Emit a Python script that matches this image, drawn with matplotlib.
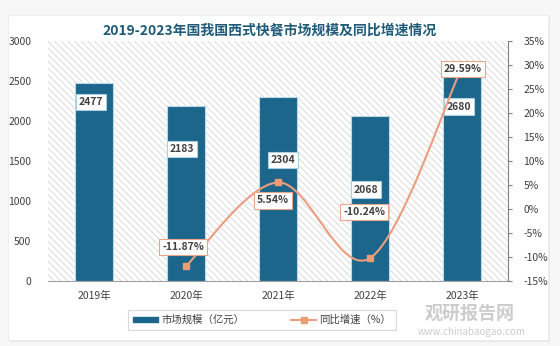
import matplotlib
matplotlib.use("Agg")
import matplotlib.pyplot as plt
from matplotlib.path import Path
from matplotlib.patches import PathPatch, Rectangle
from matplotlib.lines import Line2D
from matplotlib.patches import Patch

plt.rcParams['font.family'] = ['Noto Sans CJK SC', 'DejaVu Sans']
plt.rcParams['hatch.color'] = '#d6d6d6'
plt.rcParams['hatch.linewidth'] = 0.6

# ---- data ----
years = ['2019年', '2020年', '2021年', '2022年', '2023年']
market_size = [2477, 2183, 2304, 2068, 2680]          # 亿元
growth = [None, -11.87, 5.54, -10.24, 29.59]          # %
size_labels = ['2477', '2183', '2304', '2068', '2680']
growth_labels = ['', '-11.87%', '5.54%', '-10.24%', '29.59%']
left_ticks = [0, 500, 1000, 1500, 2000, 2500, 3000]
right_ticks = [-15, -10, -5, 0, 5, 10, 15, 20, 25, 30, 35]

title = '2019-2023年国我国西式快餐市场规模及同比增速情况'
bar_color = '#1b668a'
line_color = '#ec9d7f'
marker_color = '#eb9c70'
text_color = '#404040'

fig = plt.figure(figsize=(5.6, 3.46), dpi=100)
fig.patch.set_facecolor('#f7f7f7')
# white panel with soft shadow
fig.patches.append(Rectangle((10/560, 1-342/346), 540/560, 327/346, transform=fig.transFigure,
                             facecolor='#e6e6e6', edgecolor='none', zorder=-3))
fig.patches.append(Rectangle((8/560, 1-340/346), 540/560, 325/346, transform=fig.transFigure,
                             facecolor='white', edgecolor='#eeeeee', lw=0.8, zorder=-2))

ax = fig.add_axes([48/560, 1-281/346, (508-48)/560, (281-41)/346])
ax.set_facecolor('white')
bg = Rectangle((0, 0), 1, 1, transform=ax.transAxes, facecolor='white',
               edgecolor='#d6d6d6', linewidth=0, hatch='\\\\\\\\\\', zorder=0)
ax.add_patch(bg)

x = list(range(len(years)))
ax.bar(x, market_size, width=0.42, color=bar_color, edgecolor='#b9d7e6', linewidth=0.8, zorder=2)
ax.set_xlim(-0.5, len(years) - 0.5)
ax.set_ylim(0, 3000)
ax.set_yticks(left_ticks)
ax.set_yticklabels([str(t) for t in left_ticks])
ax.set_xticks(x)
ax.set_xticklabels(years)
ax.tick_params(axis='y', length=0, pad=12, labelsize=7.5, colors=text_color)
ax.tick_params(axis='x', length=0, pad=7, labelsize=7.5, colors=text_color)
for s in ['top', 'left', 'right']:
    ax.spines[s].set_visible(False)
ax.spines['bottom'].set_color('#a0a0a0')
ax.spines['bottom'].set_linewidth(0.8)

ax2 = ax.twinx()
ax2.set_ylim(-15, 35)
ax2.set_yticks(right_ticks)
ax2.set_yticklabels([f'{t}%' for t in right_ticks])
ax2.tick_params(axis='y', length=3, pad=8, labelsize=7.5, colors=text_color, color='#808080')
for lbl in ax2.get_yticklabels():
    lbl.set_horizontalalignment('left')
for s in ['top', 'left', 'bottom']:
    ax2.spines[s].set_visible(False)
ax2.spines['right'].set_color('#808080')
ax2.spines['right'].set_linewidth(0.8)

# smoothed growth line (Bezier through the data points)
pts = [(i, g) for i, g in zip(x, growth) if g is not None]
verts = [pts[0]]
codes = [Path.MOVETO]
n = len(pts)
for i in range(n - 1):
    p0 = pts[i - 1] if i > 0 else pts[i]
    p1 = pts[i]
    p2 = pts[i + 1]
    p3 = pts[i + 2] if i + 2 < n else pts[i + 1]
    c1 = (p1[0] + (p2[0] - p0[0]) / 6, p1[1] + (p2[1] - p0[1]) / 6)
    c2 = (p2[0] - (p3[0] - p1[0]) / 6, p2[1] - (p3[1] - p1[1]) / 6)
    verts += [c1, c2, p2]
    codes += [Path.CURVE4] * 3
ax2.add_patch(PathPatch(Path(verts, codes), facecolor='none', edgecolor=line_color, lw=1.5, zorder=3))
ax2.plot([p[0] for p in pts], [p[1] for p in pts], linestyle='none', marker='s',
         markersize=5, color=marker_color, zorder=4)

bar_box = dict(boxstyle='square,pad=0.3', facecolor='white', edgecolor='#a9cfe0', lw=0.8)
line_box = dict(boxstyle='square,pad=0.3', facecolor='white', edgecolor='#e8a58c', lw=0.8)

# bar value labels (pixel offsets from bar tops)
bar_offsets = [(-3, -19), (-4, -43), (5, -63), (-4, -74), (-3, -40)]
for i, (v, lab) in enumerate(zip(market_size, size_labels)):
    ax.annotate(lab, (i, v), xytext=bar_offsets[i], textcoords='offset pixels',
                ha='center', va='center', fontsize=7.5, color=text_color,
                fontweight='bold', bbox=bar_box, zorder=6)
# growth labels
growth_offsets = [None, (-3, 19), (-5, -18), (-6, 46), (1, -2)]
for i, (g, lab) in enumerate(zip(growth, growth_labels)):
    if g is None:
        continue
    ax2.annotate(lab, (i, g), xytext=growth_offsets[i], textcoords='offset pixels',
                 ha='center', va='center', fontsize=7.5, color=text_color,
                 fontweight='bold', bbox=line_box, zorder=7)

fig.text(270/560, 1-31/346, title, ha='center', va='center', fontsize=10,
         fontweight='bold', color='#1f5a78')

handles = [Patch(facecolor=bar_color, edgecolor=bar_color),
           Line2D([0], [0], color=line_color, lw=1.5, marker='s', markersize=4,
                  markerfacecolor=marker_color, markeredgecolor=marker_color)]
leg = fig.legend(handles, ['市场规模（亿元）', '同比增速（%）'], ncol=2,
                 loc='center', bbox_to_anchor=(262/560, 1-320/346),
                 fontsize=7.5, frameon=True, fancybox=False, edgecolor='#d0d0d0',
                 handlelength=2.4, handleheight=0.45, columnspacing=4.5,
                 borderpad=0.45, handletextpad=0.3)
leg.get_frame().set_linewidth(0.8)
for t in leg.get_texts():
    t.set_color(text_color)

# watermark
fig.text(470/560, 1-313/346, '观研报告网', ha='center', va='center', fontsize=13,
         fontweight='bold', color='#9a9a9a', alpha=0.5, zorder=10)
fig.text(472/560, 1-332/346, 'www.chinabaogao.com', ha='center', va='center', fontsize=7,
         color='#9a9a9a', alpha=0.5, zorder=10)

fig.savefig('out.png', dpi=100, facecolor=fig.get_facecolor())
